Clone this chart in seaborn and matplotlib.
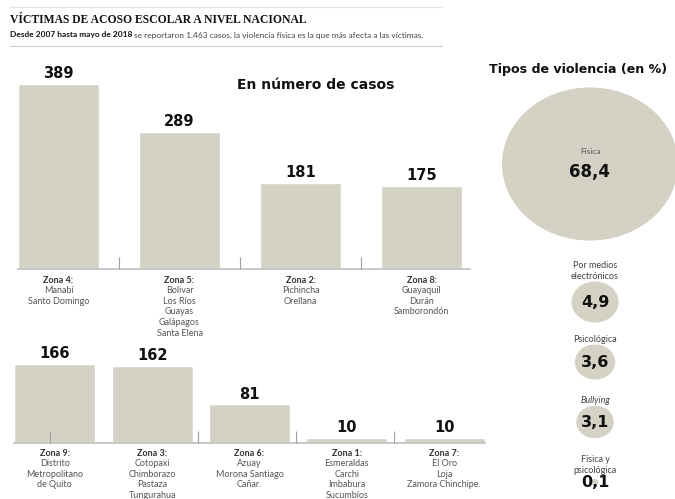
import numpy as np
import matplotlib
matplotlib.use("Agg")
import matplotlib.pyplot as plt
from matplotlib.lines import Line2D
from matplotlib.path import Path
import seaborn as sns

# data
top_zones = ['Zona 4:', 'Zona 5:', 'Zona 2:', 'Zona 8:']
top_places = ['Manabí\nSanto Domingo',
              'Bolivar\nLos Ríos\nGuayas\nGalápagos\nSanta Elena',
              'Pichincha\nOrellana',
              'Guayaquil\nDurán\nSamborondón']
top_cases = [389, 289, 181, 175]

bottom_zones = ['Zona 9:', 'Zona 3:', 'Zona 6:', 'Zona 1:', 'Zona 7:']
bottom_places = ['Distrito\nMetropolitano\nde Quito',
                 'Cotopaxi\nChimborazo\nPastaza\nTungurahua',
                 'Azuay\nMorona Santiago\nCañar.',
                 'Esmeraldas\nCarchi\nImbabura\nSucumbíos',
                 'El Oro\nLoja\nZamora Chinchipe.']
bottom_cases = [166, 162, 81, 10, 10]

violence_types = ['Física', 'Por medios\nelectrónicos', 'Psicológica', 'Bullying', 'Física y\npsicológica']
violence_pct = [68.4, 4.9, 3.6, 3.1, 0.1]

BAR = '#D4D2C5'
HEAVY = 'DejaVu Sans'
SMALL = 'Lato'
W, H = 675, 499
PX_PER_CASE = 0.4756
AREA_K = 235  # marker area (pt^2) per percent point
ELL = 1.15    # bubbles are slightly wider than tall

sns.set_theme(style='white')
plt.rcParams['font.family'] = ['Lato', 'DejaVu Sans']


def px_box(l, t, r, b):
    return [l / W, 1 - b / H, (r - l) / W, (b - t) / H]


def fx(x):
    return x / W


def fy(y):
    return 1 - y / H


fig = plt.figure(figsize=(W / 100, H / 100), dpi=100)

# header
fig.add_artist(Line2D([fx(10), fx(442)], [fy(7), fy(7)], color='#E4E4E4', lw=0.8))
fig.add_artist(Line2D([fx(10), fx(442)], [fy(46), fy(46)], color='#CDCDCD', lw=0.8))
fig.text(fx(10), fy(20), 'VÍCTIMAS DE ACOSO ESCOLAR A NIVEL NACIONAL',
         family='Liberation Serif', weight='bold', fontsize=8.4, va='center', color='#111')
t1 = fig.text(fx(10), fy(35), 'Desde 2007 hasta mayo de 2018', family=SMALL,
              weight='bold', fontsize=6, va='center', color='#111')
fig.canvas.draw()
bb = t1.get_window_extent(fig.canvas.get_renderer())
fig.text(bb.x1 / W + 0.003, fy(35),
         'se reportaron 1.463 casos, la violencia física es la que más afecta a las víctimas.',
         family=SMALL, fontsize=6, va='center', color='#444')

fig.text(fx(316), fy(85), 'En número de casos', family=HEAVY, weight='bold',
         fontsize=10, ha='center', va='center', color='#111')
fig.text(fx(489), fy(70), 'Tipos de violencia (en %)', family=HEAVY, weight='bold',
         fontsize=9.1, ha='left', va='center', color='#111')


def bar_row(box, zones, places, cases, width, xlim, ymax, ticks, head_off, body_off):
    ax = fig.add_axes(box)
    sns.barplot(x=zones, y=cases, color=BAR, width=width, saturation=1, ax=ax)
    ax.set_axisbelow(False)
    ax.set_xlim(*xlim)
    ax.set_ylim(0, ymax)
    ax.set_yticks([])
    ax.set_xticks([])
    ax.set_xticks(ticks, minor=True)
    ax.tick_params(axis='x', which='minor', bottom=True, direction='in', length=8.6,
                   width=0.8, color='#A0A0A0', labelbottom=False)
    ax.set_xlabel('')
    ax.set_ylabel('')
    for s in ['top', 'left', 'right']:
        ax.spines[s].set_visible(False)
    ax.spines['bottom'].set_color('#C4C4C4')
    ax.spines['bottom'].set_linewidth(1.3)
    ax.set_facecolor('none')
    ax.bar_label(ax.containers[0], padding=2, family=HEAVY, weight='bold',
                 fontsize=10.5, color='#111')
    for i, (z, p) in enumerate(zip(zones, places)):
        ax.annotate(z, xy=(i, 0), xycoords=('data', 'axes fraction'),
                    xytext=(0, head_off), textcoords='offset points',
                    ha='center', va='center', fontsize=6.5, weight='bold', color='#333')
        ax.annotate(p, xy=(i, 0), xycoords=('data', 'axes fraction'),
                    xytext=(0, body_off), textcoords='offset points',
                    ha='center', va='top', fontsize=6.5, color='#555',
                    linespacing=1.22, annotation_clip=False)
    return ax


ax_top = bar_row(px_box(18, 269 - 420 * PX_PER_CASE, 470, 269),
                 top_zones, top_places, top_cases, 0.67, (-0.335, 3.40), 420,
                 [0.5, 1.5, 2.5], -8, -12.5)
ax_bot = bar_row(px_box(14, 443 - 200 * PX_PER_CASE, 485, 443),
                 bottom_zones, bottom_places, bottom_cases, 0.83, (-0.42, 4.42), 200,
                 [-0.05, 1.47, 2.48, 3.49], -7.2, -11.5)

# bubbles
circ = Path.unit_circle()
ell = Path(circ.vertices * [ELL, 1.0], circ.codes)
fmt = [f'{v:.1f}'.replace('.', ',') for v in violence_pct]
sizes = [AREA_K * v for v in violence_pct]

ax_big = fig.add_axes(px_box(500, 84, 680, 244))
sns.scatterplot(x=np.zeros(1), y=violence_types[:1], s=sizes[:1], marker=ell,
                color=BAR, edgecolor='none', linewidth=0, ax=ax_big, legend=False)
ax_big.set_xlim(-1, 1)
ax_big.set_ylim(0.5, -0.5)
ax_big.axis('off')
ax_big.annotate(fmt[0], xy=(0, 0), xytext=(0, -6), textcoords='offset points',
                ha='center', va='center', family=HEAVY, weight='bold', fontsize=12, color='#111')
ax_big.annotate(violence_types[0], xy=(0, 0), xytext=(0, 9), textcoords='offset points',
                ha='center', va='center', fontsize=6, color='#555')

ax_small = fig.add_axes(px_box(545, 272, 645, 499))
sns.scatterplot(x=np.zeros(4), y=violence_types[1:], s=sizes[1:], marker=ell,
                color=BAR, edgecolor='none', linewidth=0, ax=ax_small, legend=False)
ax_small.set_xlim(-1, 1)
ax_small.set_ylim(3.283, -0.5)
ax_small.axis('off')
for i, (name, lab, s) in enumerate(zip(violence_types[1:], fmt[1:], sizes[1:])):
    ry = np.sqrt(s) / 2 / ELL
    ax_small.annotate(lab, xy=(0, i), ha='center', va='center', family=HEAVY,
                      weight='bold', fontsize=11.5, color='#111')
    ax_small.annotate(name, xy=(0, i), xytext=(0, max(ry, 4.5) + 0.5),
                      textcoords='offset points', ha='center', va='bottom',
                      fontsize=6.5, color='#444', linespacing=1.3,
                      style='italic' if name == 'Bullying' else 'normal')

fig.savefig('out.png', dpi=100)
